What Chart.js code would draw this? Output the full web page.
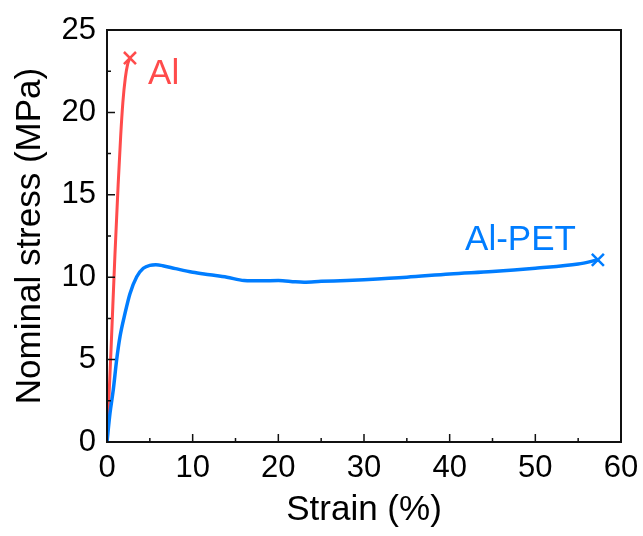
<!DOCTYPE html>
<html>
<head>
<meta charset="utf-8">
<script src="https://cdn.jsdelivr.net/npm/chart.js@4"></script>
<style>
  body { margin: 0; background: #fff; }
</style>
</head>
<body>
<canvas id="stressChart" width="643" height="536"></canvas>
<script>
// Данные кривых
const alStrain = [0, 0.47, 0.93, 1.3, 1.6, 1.85, 2.14, 2.4, 2.68];
const alStress = [0, 5.6, 11.4, 15.6, 18.6, 20.6, 22.1, 22.9, 23.3];

const petStrain = [0, 0.35, 0.74, 1.13, 1.52, 2.1, 2.68, 3.47, 4.24, 5.0, 5.7, 6.5, 8, 10, 12, 14, 16, 18, 20, 22, 23, 25, 28, 30, 35, 40, 45, 50, 55, 57.3];
const petStress = [0, 1.75, 3.2, 5.0, 6.4, 7.8, 9.0, 10.03, 10.54, 10.72, 10.75, 10.7, 10.52, 10.3, 10.15, 10.0, 9.8, 9.78, 9.8, 9.72, 9.7, 9.75, 9.8, 9.85, 10.0, 10.2, 10.35, 10.55, 10.8, 11.05];

const xTicks = [0, 10, 20, 30, 40, 50, 60];
const yTicks = [0, 5, 10, 15, 20, 25];

const labels = [
    { text: 'Al', x: 4.8, y: 21.7, color: 'rgb(255,75,75)' },
    { text: 'Al-PET', x: 41.8, y: 11.65, color: 'rgb(0,125,255)' }
];

const fontFamily = '"Liberation Sans", Arial, sans-serif';

function toPoints(xs, ys) {
    return xs.map((x, i) => ({ x: x, y: ys[i] }));
}

// Маркер только на последней точке
function endRadius(xs) {
    return xs.map((x, i) => i === xs.length - 1 ? 8.5 : 0);
}

// Рамка, внутренние тики и подписи
const framePlugin = {
    id: 'frame',
    afterDraw(chart) {
        const ctx = chart.ctx;
        const area = chart.chartArea;
        const xs = chart.scales.x;
        const ys = chart.scales.y;
        ctx.save();
        ctx.strokeStyle = '#111';
        ctx.lineWidth = 2;
        ctx.strokeRect(area.left, area.top, area.right - area.left, area.bottom - area.top);

        ctx.lineWidth = 1.5;
        ctx.beginPath();
        xTicks.forEach((v, i) => {
            const px = xs.getPixelForValue(v);
            ctx.moveTo(px, area.bottom);
            ctx.lineTo(px, area.bottom - 8);
            if (i < xTicks.length - 1) {
                const mx = xs.getPixelForValue((v + xTicks[i + 1]) / 2);
                ctx.moveTo(mx, area.bottom);
                ctx.lineTo(mx, area.bottom - 4);
            }
        });
        yTicks.forEach((v, i) => {
            const py = ys.getPixelForValue(v);
            ctx.moveTo(area.left, py);
            ctx.lineTo(area.left + 8, py);
            if (i < yTicks.length - 1) {
                const my = ys.getPixelForValue((v + yTicks[i + 1]) / 2);
                ctx.moveTo(area.left, my);
                ctx.lineTo(area.left + 4, my);
            }
        });
        ctx.stroke();

        ctx.font = '35px ' + fontFamily;
        ctx.textBaseline = 'alphabetic';
        labels.forEach(l => {
            ctx.fillStyle = l.color;
            ctx.fillText(l.text, xs.getPixelForValue(l.x), ys.getPixelForValue(l.y));
        });
        ctx.restore();
    }
};

const ctx = document.getElementById('stressChart').getContext('2d');
new Chart(ctx, {
    type: 'scatter',
    data: {
        datasets: [{
            label: 'Al-PET',
            data: toPoints(petStrain, petStress),
            showLine: true,
            borderColor: 'rgb(0,125,255)',
            backgroundColor: 'rgb(0,125,255)',
            borderWidth: 3.5,
            cubicInterpolationMode: 'monotone',
            pointStyle: 'crossRot',
            pointRadius: endRadius(petStrain),
            pointBorderWidth: 2.5
        }, {
            label: 'Al',
            data: toPoints(alStrain, alStress),
            showLine: true,
            borderColor: 'rgb(255,75,75)',
            backgroundColor: 'rgb(255,75,75)',
            borderWidth: 3,
            cubicInterpolationMode: 'monotone',
            pointStyle: 'crossRot',
            pointRadius: endRadius(alStrain),
            pointBorderWidth: 2.5
        }]
    },
    options: {
        responsive: false,
        animation: false,
        layout: { padding: { top: 30, right: 22, left: 0, bottom: 0 } },
        plugins: {
            legend: { display: false },
            tooltip: { enabled: false }
        },
        scales: {
            x: {
                type: 'linear',
                min: 0,
                max: 60,
                afterBuildTicks: s => { s.ticks = xTicks.map(v => ({ value: v })); },
                afterFit: s => { s.height = 94; s.paddingLeft = 0; s.paddingRight = 0; },
                grid: { display: false, drawTicks: false },
                border: { display: false },
                ticks: {
                    color: '#000',
                    padding: 8,
                    maxRotation: 0,
                    font: { family: fontFamily, size: 31 }
                },
                title: {
                    display: true,
                    text: 'Strain (%)',
                    color: '#000',
                    padding: { top: 0, bottom: 5 },
                    font: { family: fontFamily, size: 35 }
                }
            },
            y: {
                type: 'linear',
                min: 0,
                max: 25,
                afterBuildTicks: s => { s.ticks = yTicks.map(v => ({ value: v })); },
                afterFit: s => { s.width = 107; s.paddingTop = 0; s.paddingBottom = 0; },
                grid: { display: false, drawTicks: false },
                border: { display: false },
                ticks: {
                    color: '#000',
                    padding: 11,
                    font: { family: fontFamily, size: 31 }
                },
                title: {
                    display: true,
                    text: 'Nominal stress (MPa)',
                    color: '#000',
                    padding: { top: 9, bottom: 0 },
                    font: { family: fontFamily, size: 35 }
                }
            }
        }
    },
    plugins: [framePlugin]
});
</script>
</body>
</html>
